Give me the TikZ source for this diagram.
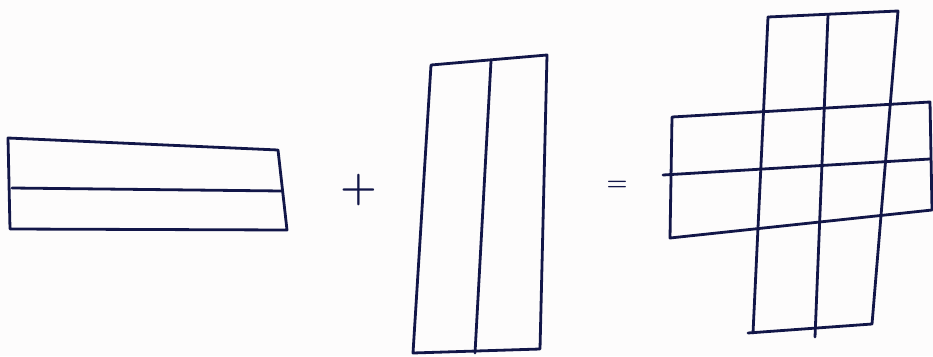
\documentclass[tikz,border=0pt]{standalone}
\usepackage{tikz}
\definecolor{ink}{RGB}{18, 22, 72}
\definecolor{paper}{RGB}{253, 252, 252}

\begin{document}
\begin{tikzpicture}[x=1pt, y=-1pt, line join=round, line cap=round]
			\tikzset{pen/.style={ink, line width=2.8pt}}
			\fill[paper] (0,0) rectangle (933,356);
			\useasboundingbox (0,0) rectangle (933,356);

			% Row block: 2 rows
			\draw[pen] (8,138) -- (278,150) -- (287,230) -- (10,229) -- cycle;
			\draw[pen] (12,188) -- (282,191);

			% Plus
			\node[ink, font=\fontsize{42}{42}\selectfont\bfseries, inner sep=0pt] (plus) at (359,190) {+};

			% Column block: 2 columns
			\draw[pen] (431,65) -- (547,55) -- (540,349) -- (413,353) -- cycle;
			\draw[pen] (491,61) -- (475,353);

			% Equals
			\node[ink, font=\fontsize{24}{24}\selectfont\bfseries, inner sep=0pt] (eq) at (617,186) {=};

			% Cross: row block
			\draw[pen] (672,117) -- (930,102) -- (932,210) -- (670,238) -- cycle;
			\draw[pen] (663,175) -- (930,159);
			% Cross: column block
			\draw[pen] (768,17) -- (898,11) -- (872,324) -- (748,333);
			\draw[pen] (768,17) -- (753,333);
			\draw[pen] (828,15) -- (815,337);

		\end{tikzpicture}
\end{document}
